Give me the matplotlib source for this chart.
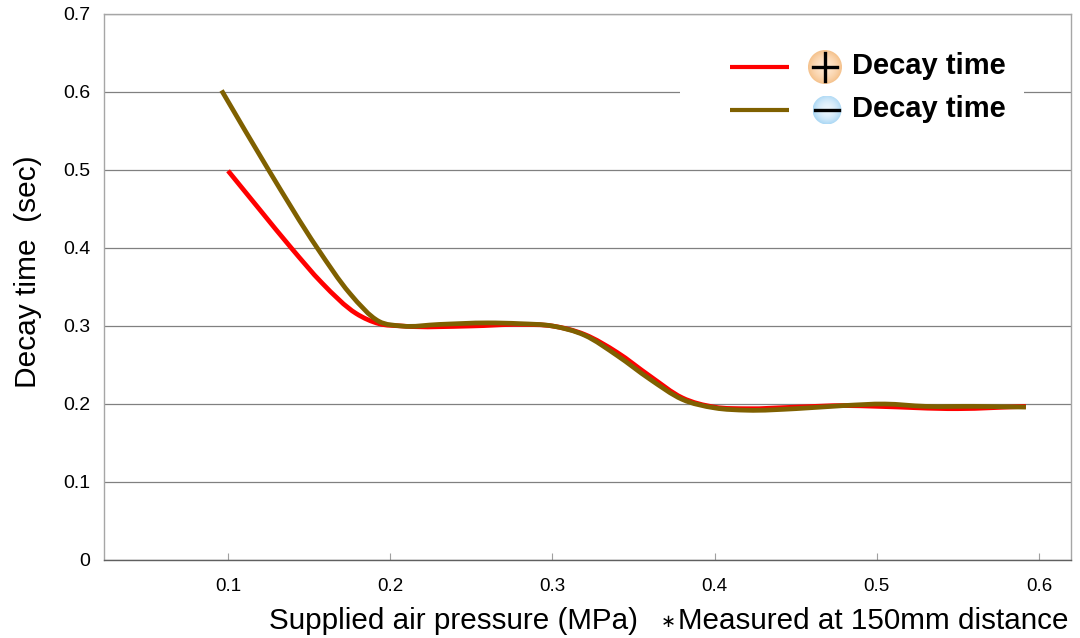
import numpy as np
import matplotlib
matplotlib.use('Agg')
import matplotlib.pyplot as plt
from matplotlib.patches import Circle, Rectangle, PathPatch
from matplotlib.path import Path
from matplotlib.lines import Line2D

plt.rcParams['font.family'] = ['Liberation Sans', 'DejaVu Sans']

# values
plus_x = [0.100, 0.120, 0.139, 0.158, 0.179, 0.193, 0.207,
          0.250, 0.280, 0.300, 0.320, 0.340, 0.360, 0.380, 0.400, 0.420, 0.450, 0.480,
          0.500, 0.550, 0.592]
plus_y = [0.499, 0.448, 0.400, 0.355, 0.316, 0.303, 0.300,
          0.300, 0.302, 0.300, 0.289, 0.266, 0.236, 0.208, 0.196, 0.194, 0.196, 0.198,
          0.197, 0.194, 0.197]
minus_x = [0.096, 0.125, 0.155, 0.175, 0.193, 0.207,
           0.230, 0.260, 0.280, 0.300, 0.320, 0.340, 0.360, 0.380, 0.400, 0.420, 0.450, 0.480,
           0.505, 0.530, 0.560, 0.592]
minus_y = [0.602, 0.500, 0.400, 0.342, 0.306, 0.300,
           0.302, 0.304, 0.303, 0.300, 0.288, 0.262, 0.232, 0.206, 0.195, 0.192, 0.194, 0.198,
           0.200, 0.197, 0.197, 0.196]
x_ticks = [0.1, 0.2, 0.3, 0.4, 0.5, 0.6]
y_ticks = [0, 0.1, 0.2, 0.3, 0.4, 0.5, 0.6, 0.7]
y_labels = ['0', '0.1', '0.2', '0.3', '0.4', '0.5', '0.6', '0.7']

W, H = 1080, 638
RED = '#ff0000'
BROWN = '#7f6000'
GRID = '#808080'


def smooth_line(ax, xs, ys, color):
    # bezier through the read points, like the smoothed line in the original
    xs = np.array(xs)
    ys = np.array(ys)
    slope = np.gradient(ys, xs)
    verts = [(xs[0], ys[0])]
    codes = [Path.MOVETO]
    for i in range(len(xs) - 1):
        dx = (xs[i + 1] - xs[i]) / 3
        verts.append((xs[i] + dx, ys[i] + slope[i] * dx))
        verts.append((xs[i + 1] - dx, ys[i + 1] - slope[i + 1] * dx))
        verts.append((xs[i + 1], ys[i + 1]))
        codes += [Path.CURVE4] * 3
    ax.add_patch(PathPatch(Path(verts, codes), fc='none', ec=color, lw=3.4,
                           capstyle='butt', joinstyle='round'))


fig = plt.figure(figsize=(W / 100, H / 100), dpi=100)
ax = fig.add_axes([104 / W, 1 - 560 / H, (1071 - 104) / W, (560 - 14) / H])
ax.set_xlim(0.0235, 0.6198)
ax.set_ylim(0, 0.7)

ax.set_yticks(y_ticks)
ax.set_yticklabels(y_labels, fontsize=14)
ax.set_xticks(x_ticks)
ax.set_xticklabels([str(t) for t in x_ticks], fontsize=13.5)
ax.tick_params(axis='y', length=0, pad=10)
ax.tick_params(axis='x', direction='in', length=5, width=0.8, color='#a0a0a0', pad=13)
ax.grid(axis='y', color=GRID, lw=0.9)
ax.set_axisbelow(True)
for name in ['left', 'top', 'right']:
    ax.spines[name].set_color('#a6a6a6')
    ax.spines[name].set_linewidth(1.0)
ax.spines['bottom'].set_color('#606060')
ax.spines['bottom'].set_linewidth(1.0)

smooth_line(ax, plus_x, plus_y, RED)
smooth_line(ax, minus_x, minus_y, BROWN)

fig.text(28 / W, 1 - 272 / H, 'Decay time  (sec)', rotation=90, fontsize=21.5, ha='center', va='center')
fig.text(269 / W, 1 - 621 / H, 'Supplied air pressure (MPa)', fontsize=21.3, ha='left', va='center')
fig.text(668 / W, 1 - 622 / H, '\u2217', fontsize=13, ha='center', va='center', family=['DejaVu Sans'])
fig.text(1069 / W, 1 - 621 / H, 'Measured at 150mm distance', fontsize=21.3, ha='right', va='center')


def to_fig(px, py):
    return px / W, 1 - py / H


# legend box hides the gridline behind it
fig.add_artist(Rectangle(to_fig(680, 128), 344 / W, 85 / H, fc='white', ec='none', zorder=3))
fig.add_artist(Line2D([730 / W, 789 / W], [1 - 66.5 / H] * 2, color=RED, lw=3,
                      solid_capstyle='butt', zorder=4))
fig.add_artist(Line2D([730 / W, 789 / W], [1 - 110 / H] * 2, color=BROWN, lw=3,
                      solid_capstyle='butt', zorder=4))
fig.text(852 / W, 1 - 66 / H, 'Decay time', fontsize=21, fontweight='bold', va='center', zorder=4)
fig.text(852 / W, 1 - 109 / H, 'Decay time', fontsize=21, fontweight='bold', va='center', zorder=4)


def badge(cx, cy, r, inner, outer):
    bax = fig.add_axes([(cx - r) / W, 1 - (cy + r) / H, 2 * r / W, 2 * r / H], zorder=5)
    bax.axis('off')
    yy, xx = np.mgrid[-1:1:80j, -1:1:80j]
    t = np.clip(np.sqrt(xx ** 2 + yy ** 2), 0, 1)[..., None] ** 2
    img = np.array(inner) * (1 - t) + np.array(outer) * t
    im = bax.imshow(img, extent=(-1, 1, -1, 1), interpolation='bilinear')
    im.set_clip_path(Circle((0, 0), 1, transform=bax.transData))
    return bax


b1 = badge(825, 67, 17, (1.0, 0.90, 0.80), (0.96, 0.76, 0.55))
b1.plot([-0.72, 0.72], [0, 0], color='black', lw=2.4)
b1.plot([0, 0], [-0.85, 0.85], color='black', lw=2.4)
b1.set_xlim(-1, 1)
b1.set_ylim(-1, 1)
b2 = badge(827, 110, 14.5, (0.92, 0.96, 0.99), (0.68, 0.85, 0.96))
b2.plot([-0.85, 0.85], [0, 0], color='black', lw=2.4)
b2.set_xlim(-1, 1)
b2.set_ylim(-1, 1)

fig.savefig('out.png', dpi=100)
